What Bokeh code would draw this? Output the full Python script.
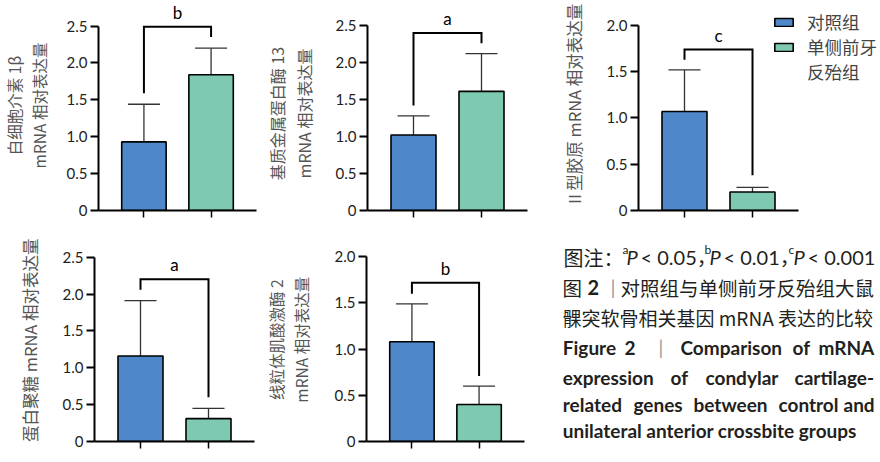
import math
from bokeh.plotting import figure
from bokeh.models import (Range1d, FixedTicker, ColumnDataSource, Whisker, TeeHead,
                          Legend, LegendItem, PrintfTickFormatter)
from bokeh.layouts import row, column
from bokeh.core.properties import value
from bokeh.embed import file_html
from bokeh.resources import INLINE

# ---------------- data ----------------
group_names = ["对照组", "单侧前牙", "反殆组"]
y_labels = ["白细胞介素 1β\nmRNA 相对表达量",
            "基质金属蛋白酶 13\u3000\nmRNA 相对表达量\u3000",
            "Ⅱ型胶原 mRNA 相对表达量",
            "蛋白聚糖 mRNA 相对表达量\u3000",
            "线粒体肌酸激酶 2\u3000\nmRNA 相对表达量\u3000"]
control_mean = [0.93, 1.02, 1.07, 1.16, 1.08]
control_upper = [1.44, 1.28, 1.52, 1.91, 1.49]
crossbite_mean = [1.84, 1.61, 0.20, 0.31, 0.40]
crossbite_upper = [2.20, 2.12, 0.25, 0.45, 0.60]
sig_letter = ["b", "a", "c", "a", "b"]
bracket_y = [2.49, 2.40, 1.74, 2.20, 1.72]
bracket_left_end = [1.59, 1.42, 1.63, 2.06, 1.60]
bracket_right_end = [2.35, 2.26, 0.38, 0.60, 0.71]
y_axis_max = [2.5, 2.5, 2.0, 2.5, 2.0]
y_tick_values = [[0, 0.5, 1.0, 1.5, 2.0, 2.5],
                 [0, 0.5, 1.0, 1.5, 2.0, 2.5],
                 [0, 0.5, 1.0, 1.5, 2.0],
                 [0, 0.5, 1.0, 1.5, 2.0, 2.5],
                 [0, 0.5, 1.0, 1.5, 2.0]]

BLUE = "#4F88C8"
GREEN = "#7DC9B2"
CJK = "Noto Sans CJK SC"
LAT = "Lato"

TOP_H = 222
BOT_H = 240
BOT_BORDER = 21
# layout (figure width, height, frame left, bottom border, y range top, label standoff, label size)
panel_layout = [
    dict(w=262, h=TOP_H, left=96, bottom=12, ytop=2.846, stand=14, fs="15.5px"),
    dict(w=278, h=TOP_H, left=105, bottom=12, ytop=2.838, stand=17, fs="16px"),
    dict(w=340, h=TOP_H, left=98, bottom=12, ytop=2.270, stand=18, fs="16.5px"),
    dict(w=262, h=BOT_H, left=94, bottom=BOT_BORDER, ytop=2.971, stand=18, fs="16.5px"),
    dict(w=278, h=BOT_H, left=102, bottom=BOT_BORDER, ytop=2.371, stand=20, fs="15.5px"),
]
PX_PER_X = 68.0
X0 = 1 - 46.0 / PX_PER_X
AXIS_LEN = 160.0


def make_panel(i, extend_right=False):
    L = panel_layout[i]
    frame_w = (L["w"] - L["left"]) if extend_right else AXIS_LEN
    right = L["w"] - L["left"] - frame_w
    p = figure(width=L["w"], height=L["h"],
               x_range=Range1d(X0, X0 + frame_w / PX_PER_X),
               y_range=Range1d(0, L["ytop"]),
               output_backend="svg", toolbar_location=None,
               min_border_left=L["left"], min_border_right=int(right),
               min_border_top=0, min_border_bottom=L["bottom"])
    p.outline_line_color = None
    p.xgrid.visible = False
    p.ygrid.visible = False
    p.background_fill_color = "white"
    p.border_fill_color = "white"

    src_c = ColumnDataSource(dict(x=[1], top=[control_mean[i]], upper=[control_upper[i]]))
    src_e = ColumnDataSource(dict(x=[2], top=[crossbite_mean[i]], upper=[crossbite_upper[i]]))
    bw = 45.0 / PX_PER_X
    rc = p.vbar(x="x", top="top", width=bw, source=src_c, fill_color=BLUE,
                line_color="black", line_width=1.6)
    re = p.vbar(x="x", top="top", width=bw, source=src_e, fill_color=GREEN,
                line_color="black", line_width=1.6)
    for src in (src_c, src_e):
        w = Whisker(source=src, base="x", lower="top", upper="upper",
                    line_color="#333333", line_width=1.3,
                    upper_head=TeeHead(size=32, line_color="#333333", line_width=1.3),
                    lower_head=None)
        p.add_layout(w)

    p.line(x=[1, 1, 2, 2],
           y=[bracket_left_end[i], bracket_y[i], bracket_y[i], bracket_right_end[i]],
           line_color="black", line_width=2, line_join="miter")
    p.text(x=[1.5], y=[bracket_y[i]], text=[sig_letter[i]], text_align="center",
           text_baseline="bottom", y_offset=-4, text_font=value(LAT),
           text_font_size="17px", text_color="black")

    ya = p.yaxis[0]
    ya.ticker = FixedTicker(ticks=y_tick_values[i])
    ya.formatter = PrintfTickFormatter(format="%.1f")
    ya.major_label_overrides = {0: "0"}
    ya.bounds = (0, y_axis_max[i])
    ya.axis_line_width = 2
    ya.axis_line_color = "black"
    ya.major_tick_line_width = 2
    ya.major_tick_line_color = "black"
    ya.major_tick_out = 8
    ya.major_tick_in = 0
    ya.minor_tick_line_color = None
    ya.major_label_text_font = LAT
    ya.major_label_text_font_size = "15px"
    ya.major_label_text_color = "#222222"
    ya.major_label_standoff = 3
    ya.axis_label = y_labels[i]
    ya.axis_label_text_font = CJK
    ya.axis_label_text_font_size = L["fs"]
    ya.axis_label_text_font_style = "normal"
    ya.axis_label_text_color = "#555555"
    ya.axis_label_standoff = L["stand"]
    ya.axis_label_text_line_height = 1.1

    xa = p.xaxis[0]
    xa.ticker = FixedTicker(ticks=[1, 2])
    xa.bounds = (X0, X0 + AXIS_LEN / PX_PER_X)
    xa.major_label_overrides = {1: "", 2: ""}
    xa.major_label_text_font_size = "0px"
    xa.major_label_standoff = 0
    xa.axis_line_width = 2
    xa.axis_line_color = "black"
    xa.major_tick_out = 7
    xa.major_tick_in = 0
    xa.major_tick_line_width = 1.5
    xa.major_tick_line_color = "black"
    xa.minor_tick_line_color = None
    return p, rc, re


p1, _, _ = make_panel(0)
p2, _, _ = make_panel(1)
p3, rc3, re3 = make_panel(2, extend_right=True)
p4, _, _ = make_panel(3)
p5, _, _ = make_panel(4)

# legend on panel 3
dummy = p3.vbar(x=[], top=[], width=0.1, fill_alpha=0, line_alpha=0)
legend = Legend(items=[LegendItem(label=group_names[0], renderers=[rc3]),
                       LegendItem(label=group_names[1], renderers=[re3]),
                       LegendItem(label=group_names[2], renderers=[dummy])],
                location=(134, 126), orientation="vertical",
                glyph_width=23, glyph_height=10, label_standoff=12,
                label_height=25, label_width=20, spacing=0, padding=0, margin=0,
                border_line_alpha=0, background_fill_alpha=0,
                label_text_font=CJK, label_text_font_size="17.5px",
                label_text_color="#444444")
p3.add_layout(legend)

# ---------------- caption ----------------
# (the row aligns frames, so the caption frame shares the bottom border of its neighbours)
CAP_DY = 228 - TOP_H
CAP_FRAME_H = BOT_H - BOT_BORDER
cap = figure(width=340, height=BOT_H, x_range=Range1d(0, 340),
             y_range=Range1d(CAP_FRAME_H, 0),
             output_backend="svg", toolbar_location=None,
             x_axis_location=None, y_axis_location=None,
             min_border=0, min_border_left=0, min_border_right=0,
             min_border_top=0, min_border_bottom=BOT_BORDER)
cap.xgrid.visible = False
cap.ygrid.visible = False
cap.outline_line_color = None

TXT = "#231f20"
MIX = LAT + ", " + CJK
EN = "19px"
cap_items = [
    # (x, y, text, font, size, style, color)
    (23, 28.7, "图注：", CJK, "20px", "normal", TXT),
    (82, 21, "a", LAT, "12px", "normal", TXT),
    (86, 28.7, "P", LAT, "20px", "italic", TXT),
    (100, 28.7, "< 0.05，", MIX, "20px", "normal", TXT),
    (164, 21, "b", LAT, "12px", "normal", TXT),
    (169, 28.7, "P", LAT, "20px", "italic", TXT),
    (183, 28.7, "< 0.01，", MIX, "20px", "normal", TXT),
    (248, 21, "c", LAT, "12px", "normal", TXT),
    (253, 28.7, "P", LAT, "20px", "italic", TXT),
    (267, 28.7, "< 0.001", MIX, "20px", "normal", TXT),
    (22, 58.7, "图", CJK, "19.5px", "normal", TXT),
    (47, 58.7, "2", LAT, "20px", "bold", TXT),
    (70, 58.7, "|", LAT, "20px", "normal", "#9a9a9a"),
    (80, 58.7, "对照组与单侧前牙反殆组大鼠", CJK, "19.5px", "normal", TXT),
    (22, 88.7, "髁突软骨相关基因 mRNA 表达的比较", CJK, "19px", "normal", TXT),
    (22.3, 119.3, "Figure", LAT, EN, "bold", TXT),
    (84, 119.3, "2", LAT, EN, "bold", TXT),
    (118, 119.3, "|", LAT, EN, "normal", "#9a9a9a"),
    (140, 119.3, "Comparison", LAT, EN, "bold", TXT),
    (252, 119.3, "of", LAT, EN, "bold", TXT),
    (278, 119.3, "mRNA", LAT, EN, "bold", TXT),
    (22.3, 148.7, "expression", LAT, EN, "bold", TXT),
    (130, 148.7, "of", LAT, EN, "bold", TXT),
    (165, 148.7, "condylar", LAT, EN, "bold", TXT),
    (254, 148.7, "cartilage-", LAT, EN, "bold", TXT),
    (22.3, 176.3, "related", LAT, EN, "bold", TXT),
    (93, 176.3, "genes", LAT, EN, "bold", TXT),
    (153, 176.3, "between", LAT, EN, "bold", TXT),
    (238, 176.3, "control", LAT, EN, "bold", TXT),
    (303, 176.3, "and", LAT, EN, "bold", TXT),
    (22.3, 201.5, "unilateral anterior crossbite groups", LAT, EN, "bold", TXT),
]
for (x, y, t, f, s, st, c) in cap_items:
    cap.text(x=[x], y=[y + CAP_DY], text=[t], text_font=value(f), text_font_size=s,
             text_font_style=st, text_color=c, text_align="left",
             text_baseline="middle")

layout = column(row(p1, p2, p3), row(p4, p5, cap))

open("out.html", "w").write(file_html(layout, INLINE))
